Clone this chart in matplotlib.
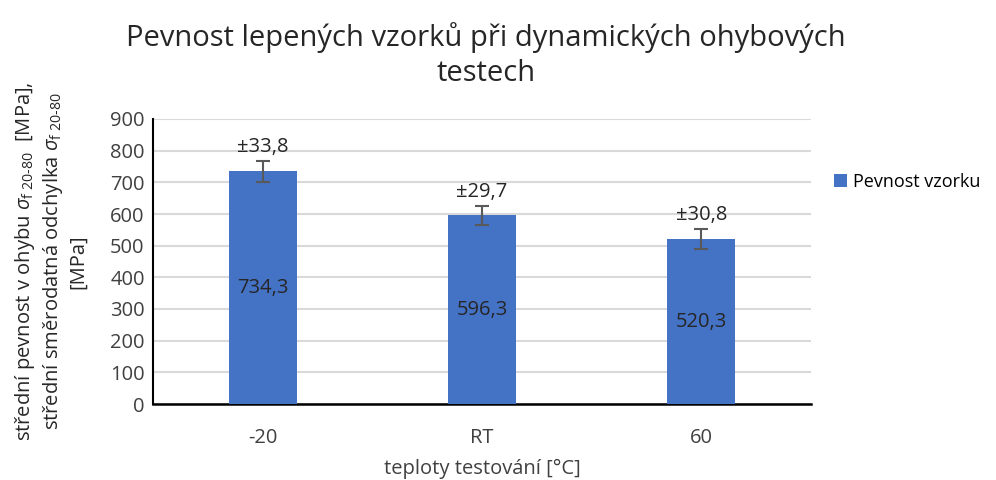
import numpy as np
import matplotlib
matplotlib.use("Agg")
import matplotlib.pyplot as plt

plt.rcParams["font.family"] = ["Open Sans", "DejaVu Sans"]
plt.rcParams["mathtext.fontset"] = "custom"
plt.rcParams["mathtext.rm"] = "Open Sans"
plt.rcParams["mathtext.it"] = "Open Sans:italic"

categories = ["-20", "RT", "60"]
pevnost = [734.3, 596.3, 520.3]
odchylka = [33.8, 29.7, 30.8]

blue = "#4472C4"
txt = "#262626"
fs = 14.5

fig = plt.figure(figsize=(9.96, 4.8), dpi=100)
ax = fig.add_axes([153/996, 1 - 404/480, (811 - 153)/996, (404 - 119)/480])

x = np.arange(len(categories))
ax.bar(x, pevnost, width=0.31, color=blue, label="Pevnost vzorku", zorder=3)
ax.errorbar(x, pevnost, yerr=odchylka, fmt="none", ecolor="#595959",
            elinewidth=1.5, capsize=5, capthick=1.5, zorder=4)

for xi, v, s in zip(x, pevnost, odchylka):
    ax.text(xi, v / 2, f"{v:.1f}".replace(".", ","), ha="center", va="center",
            fontsize=fs, color=txt, zorder=5)
    ax.annotate(f"±{s:.1f}".replace(".", ","), (xi, v + s), xytext=(0, 3),
                textcoords="offset points", ha="center", va="bottom",
                fontsize=fs, color=txt)

ax.set_xlim(-0.5, 2.5)
ax.set_ylim(0, 900)
ax.set_yticks(np.arange(0, 901, 100))
ax.set_xticks(x)
ax.set_xticklabels(categories)
ax.tick_params(axis="both", length=0, labelsize=fs, labelcolor="#404040")
ax.tick_params(axis="x", pad=17)
ax.tick_params(axis="y", pad=6)
ax.grid(axis="y", color="#d9d9d9", linewidth=1.5, zorder=0)
ax.set_axisbelow(True)
for side in ["top", "right"]:
    ax.spines[side].set_visible(False)
ax.spines["left"].set_linewidth(1.5)
ax.spines["bottom"].set_linewidth(1.8)

ax.set_xlabel("teploty testování [°C]", fontsize=fs, color="#404040", labelpad=8)
sig = r"$\sigma_{\mathrm{f\ 20\text{-}80}}$"
ax.set_ylabel("střední pevnost v ohybu " + sig + "  [MPa],\nstřední směrodatná odchylka " + sig + "\n[MPa]",
              fontsize=fs, color=txt, linespacing=1.25)
ax.yaxis.set_label_coords(-0.098, 0.5)

fig.text(0.488, 0.885, "Pevnost lepených vzorků při dynamických ohybových\ntestech",
         ha="center", va="center", fontsize=21, color=txt, linespacing=1.3)

ax.legend(loc="center left", bbox_to_anchor=(0.035, 0.78), bbox_transform=ax.transAxes,
          frameon=False, fontsize=13, handlelength=0.7, handleheight=0.7,
          handletextpad=0.35, borderaxespad=0, borderpad=0)
leg = ax.get_legend()
leg.set_bbox_to_anchor((1.035, 0.78), transform=ax.transAxes)

fig.savefig("out.png", dpi=100)
